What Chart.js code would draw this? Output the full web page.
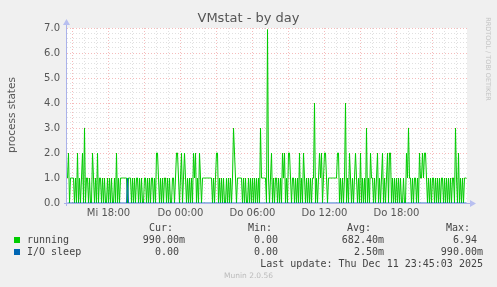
<!DOCTYPE html>
<html>
<head>
<meta charset="utf-8">
<script src="https://cdn.jsdelivr.net/npm/chart.js@4"></script>
<style>
html, body { margin: 0; padding: 0; background: #f0f0f0; }
#wrap { position: relative; width: 497px; height: 287px; overflow: hidden; font-family: 'DejaVu Sans', sans-serif; }
#c { position: absolute; left: 0; top: 0; }
.t { position: absolute; white-space: pre; line-height: 12px; }
.mono { font-family: 'DejaVu Sans Mono', monospace; font-size: 10px; color: #444; }
.sq { position: absolute; width: 6px; height: 6px; }
</style>
</head>
<body>
<div id="wrap">
  <canvas id="c" width="497" height="287"></canvas>
  <div class="t" style="left:0;width:497px;text-align:center;top:10px;font-size:13px;line-height:16px;color:#555">VMstat - by day</div>
  <div class="t" style="left:-49px;width:120px;text-align:center;top:109px;font-size:10.5px;color:#555;transform:rotate(-90deg)">process states</div>
  <div class="t" style="left:438px;width:100px;text-align:center;top:55px;font-size:6.5px;line-height:8px;color:#c4c4c4;transform:rotate(90deg)">RRDTOOL / TOBI OETIKER</div>
  <div class="t" style="left:0;width:497px;text-align:center;top:271px;font-size:7.5px;line-height:10px;color:#bbb">Munin 2.0.56</div>
  <div id="legend"></div>
</div>
<script>
// 5 minute samples, one per pixel
const running = [
  1,2,0,1,1,1,1,0,1,0,2,0,1,0,1,2,0,3,0,1,
  1,0,1,0,0,2,1,0,1,0,2,0,1,1,0,1,0,1,0,0,
  1,0,1,0,1,0,0,1,0,2,0,1,0,1,1,1,1,1,1,1,
  0,1,1,1,0,1,0,1,0,1,1,0,1,0,1,0,0,1,1,0,
  1,0,1,0,1,1,0,1,0,2,2,1,0,1,0,1,0,1,1,0,
  1,0,1,0,0,1,1,0,1,2,2,1,0,1,2,0,1,2,1,0,
  1,0,1,0,1,0,2,1,2,0,1,0,2,1,0,1,1,1,1,1,
  1,1,1,1,1,0,1,0,1,2,2,0,1,0,1,0,1,0,0,1,
  0,1,0,1,0,1,3,2,1,0,1,1,1,1,1,0,1,0,1,0,
  0,1,0,1,0,1,0,1,0,1,0,1,0,3,1,1,1,1,1,0,
  6.94,1,0,1,2,0,1,0,1,1,0,1,0,1,0,2,1,2,0,1,
  0,2,2,1,0,1,1,0,1,0,1,0,2,0,1,0,2,1,0,1,
  0,1,0,1,0,1,1,4,0,1,0,1,2,1,2,0,1,2,2,1,
  0,1,1,1,1,1,1,1,1,1,2,2,0,1,0,1,0,1,4,0,
  1,0,2,1,0,1,0,1,2,1,0,1,0,2,0,1,0,1,0,3,
  0,1,0,2,1,1,0,1,0,1,2,0,1,0,1,2,0,1,0,1,
  2,0,2,2,0,1,0,1,0,1,0,1,0,1,0,0,1,0,0,2,
  1,3,1,1,0,1,0,1,1,0,1,0,2,1,1,2,1,2,2,1,
  0,1,0,1,0,1,1,0,1,0,1,0,1,0,1,1,0,1,0,1,
  0,1,0,1,0,1,1,0,3,1,0,2,0,1,0,1,0,1,1,0.99
];
const ioSleep = [
  0,0,0,0,0,0,0,0,0,0,0,0,0,0,0,0,0,0,0,0,
  0,0,0,0,0,0,0,0,0,0,0,0,0,0,0,0,0,0,0,0,
  0,0,0,0,0,0,0,0,0,0,0,0,0,0,0,0,0,0,0,0,
  0.99,0,0,0,0,0,0,0,0,0,0,0,0,0,0,0,0,0,0,0,
  0,0,0,0,0,0,0,0,0,0,0,0,0,0,0,0,0,0,0,0,
  0,0,0,0,0,0,0,0,0,0,0,0,0,0,0,0,0,0,0,0,
  0,0,0,0,0,0,0,0,0,0,0,0,0,0,0,0,0,0,0,0,
  0,0,0,0,0,0,0,0,0,0,0,0,0,0,0,0,0,0,0,0,
  0,0,0,0,0,0,0,0,0,0,0,0,0,0,0,0,0,0,0,0,
  0,0,0,0,0,0,0,0,0,0,0,0,0,0,0,0,0,0,0,0,
  0,0,0,0,0,0,0,0,0,0,0,0,0,0,0,0,0,0,0,0,
  0,0,0,0,0,0,0,0,0,0,0,0,0,0,0,0,0,0,0,0,
  0,0,0,0,0,0,0,0,0,0,0,0,0,0,0,0,0,0,0,0,
  0,0,0,0,0,0,0,0,0,0,0,0,0,0,0,0,0,0,0,0,
  0,0,0,0,0,0,0,0,0,0,0,0,0,0,0,0,0,0,0,0,
  0,0,0,0,0,0,0,0,0,0,0,0,0,0,0,0,0,0,0,0,
  0,0,0,0,0,0,0,0,0,0,0,0,0,0,0,0,0,0,0,0,
  0,0,0,0,0,0,0,0,0,0,0,0,0,0,0,0,0,0,0,0,
  0,0,0,0,0,0,0,0,0,0,0,0,0,0,0,0,0,0,0,0,
  0,0,0,0,0,0,0,0,0,0,0,0,0,0,0,0,0,0,0,0
];
const xTickPos = [41, 113, 185, 257, 329];
const xTickLabels = ['Mi 18:00', 'Do 00:00', 'Do 06:00', 'Do 12:00', 'Do 18:00'];

const legendNames = ['running', 'I/O sleep'];
const legendColors = ['#00cc00', '#0066b3'];
const curVals = ['990.00m', '0.00 '];
const minVals = ['0.00 ', '0.00 '];
const avgVals = ['682.40m', '2.50m'];
const maxVals = ['6.94 ', '990.00m'];
const lastUpdate = 'Last update: Thu Dec 11 23:45:03 2025';

const gridGray = 'rgba(160,160,160,0.32)';
const gridRed = 'rgba(235,120,120,0.5)';

// legend as html text
const lg = document.getElementById('legend');
function put(txt, rightEdge, top) {
  const d = document.createElement('div');
  d.className = 't mono';
  d.style.right = (497 - rightEdge) + 'px';
  d.style.top = top + 'px';
  d.textContent = txt;
  lg.appendChild(d);
}
put('Cur:', 173, 222); put('Min:', 272, 222); put('Avg:', 371, 222); put('Max:', 470, 222);
legendNames.forEach((n, i) => {
  const top = 234 + i * 12;
  const sq = document.createElement('div');
  sq.className = 'sq';
  sq.style.left = '14px';
  sq.style.top = (top + 3) + 'px';
  sq.style.background = legendColors[i];
  lg.appendChild(sq);
  const d = document.createElement('div');
  d.className = 't mono';
  d.style.left = '27px';
  d.style.top = top + 'px';
  d.textContent = n;
  lg.appendChild(d);
  put(curVals[i], 185, top);
  put(minVals[i], 284, top);
  put(avgVals[i], 384, top);
  put(maxVals[i], 483, top);
});
put(lastUpdate, 483, 258);

const canvasBg = {
  id: 'canvasBg',
  beforeDraw(chart) {
    const { ctx, chartArea: a } = chart;
    ctx.save();
    ctx.fillStyle = '#ffffff';
    ctx.fillRect(a.left, a.top, a.right - a.left, a.bottom - a.top);
    ctx.restore();
  }
};

const axes = {
  id: 'axes',
  afterDatasetsDraw(chart) {
    const { ctx, chartArea: a } = chart;
    ctx.save();
    ctx.strokeStyle = '#aab2ea';
    ctx.fillStyle = '#b8bff0';
    ctx.lineWidth = 1;
    ctx.beginPath();
    ctx.moveTo(a.left - 3, a.bottom + 0.5);
    ctx.lineTo(a.right + 4, a.bottom + 0.5);
    ctx.moveTo(a.left - 0.5, a.bottom + 3);
    ctx.lineTo(a.left - 0.5, a.top - 4);
    ctx.stroke();
    ctx.beginPath();
    ctx.moveTo(a.right + 3, a.bottom - 3);
    ctx.lineTo(a.right + 9, a.bottom + 0.5);
    ctx.lineTo(a.right + 3, a.bottom + 4);
    ctx.fill();
    ctx.beginPath();
    ctx.moveTo(a.left - 4, a.top - 3);
    ctx.lineTo(a.left - 0.5, a.top - 9);
    ctx.lineTo(a.left + 3, a.top - 3);
    ctx.fill();
    ctx.restore();
  }
};

new Chart(document.getElementById('c').getContext('2d'), {
  type: 'line',
  data: {
    datasets: [
      { label: 'running', data: running.map((v, i) => ({ x: i, y: v })), borderColor: '#00cc00', borderWidth: 1, pointRadius: 0, order: 1 },
      { label: 'I/O sleep', data: ioSleep.map((v, i) => ({ x: i, y: v })), borderColor: '#0066b3', borderWidth: 1, pointRadius: 0, order: 0 }
    ]
  },
  options: {
    responsive: false,
    animation: false,
    events: [],
    layout: { padding: { left: 0, top: 28, right: 30, bottom: 0 } },
    plugins: { legend: { display: false }, tooltip: { enabled: false } },
    scales: {
      x: {
        type: 'linear', min: -0.5, max: 399.5,
        afterFit: s => { s.height = 84; },
        afterBuildTicks: s => {
          const t = [];
          for (let v = 5; v < 400; v += 12) t.push({ value: v });
          s.ticks = t;
        },
        grid: { drawTicks: false, color: c => ((c.tick.value - 5) % 36 === 0 ? gridRed : gridGray) },
        border: { display: false, dash: [1, 2] },
        ticks: {
          autoSkip: false, maxRotation: 0, padding: 4, color: '#555',
          font: { family: 'DejaVu Sans', size: 10 },
          callback: v => { const j = xTickPos.indexOf(v); return j >= 0 ? xTickLabels[j] : ''; }
        }
      },
      y: {
        min: 0, max: 7,
        afterFit: s => { s.width = 67; },
        afterBuildTicks: s => {
          const t = [];
          for (let k = 0; k <= 35; k++) t.push({ value: k / 5 });
          s.ticks = t;
        },
        grid: { drawTicks: false, color: c => (Math.round(c.tick.value * 5) % 5 === 0 ? gridRed : gridGray) },
        border: { display: false, dash: [1, 2] },
        ticks: {
          autoSkip: false, padding: 7, color: '#555',
          font: { family: 'DejaVu Sans', size: 10 },
          callback: v => (Math.abs(v - Math.round(v)) < 1e-6 ? v.toFixed(1) : '')
        }
      }
    }
  },
  plugins: [canvasBg, axes]
});
</script>
</body>
</html>
